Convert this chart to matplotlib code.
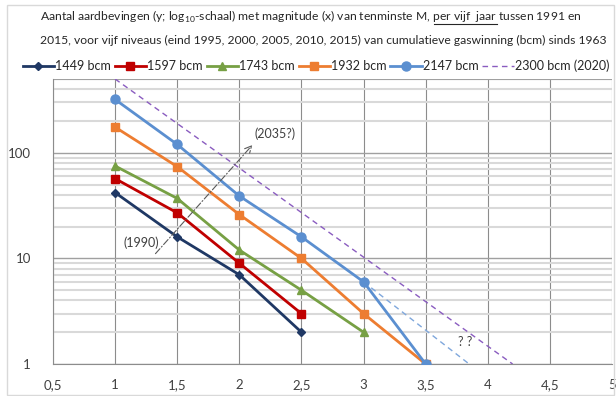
import matplotlib
matplotlib.use("Agg")
import matplotlib.pyplot as plt
import matplotlib.ticker as mticker
from matplotlib.lines import Line2D
from matplotlib.patches import Rectangle

plt.rcParams['font.family'] = ['Lato', 'DejaVu Sans']
plt.rcParams['mathtext.fontset'] = 'custom'
plt.rcParams['mathtext.rm'] = 'Lato'

# magnitude (x) and number of quakes per five years (y)
mag = [1, 1.5, 2, 2.5, 3, 3.5]
n_1449 = [42, 16, 7, 2]
n_1597 = [57, 27, 9, 3]
n_1743 = [75, 37, 12, 5, 2]
n_1932 = [175, 74, 26, 10, 3, 1]
n_2147 = [320, 120, 39, 16, 6, 1]

# projections
proj_2300_x = [1, 4.2]
proj_2300_y = [500, 1]
guess_x = [3, 3.85]
guess_y = [6, 1]
arrow_from = (1.31, 10.6)
arrow_to = (2.12, 124)

series = [
    ('1449 bcm', n_1449, '#1f3864', 'D', 4),
    ('1597 bcm', n_1597, '#c00000', 's', 5.5),
    ('1743 bcm', n_1743, '#77a044', '^', 6),
    ('1932 bcm', n_1932, '#ed7d31', 's', 5.5),
    ('2147 bcm', n_2147, '#5b8fd0', 'o', 6.5),
]

fig = plt.figure(figsize=(6.16, 3.96), dpi=100)
ax = fig.add_axes([53 / 616, 1 - 364 / 396, 559 / 616, 285 / 396])

for label, vals, col, mk, ms in series:
    ax.plot(mag[:len(vals)], vals, color=col, marker=mk, markersize=ms, lw=2,
            label=label, zorder=3)

ax.plot(guess_x, guess_y, color='#7fa7dc', lw=1, ls=(0, (4, 3)), zorder=2)
ax.plot(proj_2300_x, proj_2300_y, color='#8a5cc0', lw=1, ls=(0, (4, 3)),
        label='2300 bcm (2020)', zorder=2)

ax.annotate('', xy=arrow_to, xytext=arrow_from,
            arrowprops=dict(arrowstyle='->', color='#595959', lw=0.8,
                            ls=(0, (6, 2, 1, 2)), mutation_scale=12))
ax.text(1.07, 14, '(1990)', fontsize=9, color='#404040', va='center', ha='left')
ax.text(2.12, 150, '(2035?)', fontsize=9, color='#404040', va='center', ha='left')
ax.text(3.82, 1.6, '? ?', fontsize=9, color='#404040', va='center', ha='center')

ax.set_yscale('log')
ax.set_xlim(0.5, 5)
ax.set_ylim(1, 500)
ax.set_xticks([0.5, 1, 1.5, 2, 2.5, 3, 3.5, 4, 4.5, 5])
ax.xaxis.set_major_formatter(mticker.FuncFormatter(lambda v, p: f'{v:g}'.replace('.', ',')))
ax.yaxis.set_major_locator(mticker.FixedLocator([1, 10, 100]))
ax.yaxis.set_major_formatter(mticker.FuncFormatter(lambda v, p: f'{v:g}'))
ax.yaxis.set_minor_locator(mticker.LogLocator(base=10, subs=range(2, 10)))
ax.yaxis.set_minor_formatter(mticker.NullFormatter())
ax.tick_params(which='both', length=0, labelsize=9.5, colors='#404040')
ax.tick_params(axis='x', pad=11)
ax.tick_params(axis='y', pad=16)

ax.grid(which='minor', axis='y', color='#d9d9d9', lw=1.5, zorder=0)
ax.grid(which='major', axis='y', color='#a0a0a0', lw=1, zorder=1)
ax.grid(which='major', axis='x', color='#8c8c8c', lw=0.8, zorder=1)
ax.set_axisbelow(True)
for s in ['top', 'right']:
    ax.spines[s].set_visible(False)
for s in ['left', 'bottom']:
    ax.spines[s].set_color('#8c8c8c')
    ax.spines[s].set_linewidth(0.8)
ax.axhline(500, color='#a0a0a0', lw=0.8, zorder=1)

ax.legend(loc='center', bbox_to_anchor=(316 / 616, 1 - 66 / 396),
          bbox_transform=fig.transFigure, ncol=6, frameon=False,
          fontsize=9, handlelength=2.5, columnspacing=0.3, handletextpad=0.1,
          borderaxespad=0, borderpad=0, labelcolor='#262626')

# title with underlined part
fs = 8.7
x0 = 40 / 616
y1 = 1 - 21 / 396
y2 = 1 - 44 / 396
pre = 'Aantal aardbevingen (y; log$_{10}$-schaal) met magnitude (x) van tenminste M, '
und = 'per vijf  jaar'
line1 = pre + und + ' tussen 1991 en'
line2 = '2015, voor vijf niveaus (eind 1995, 2000, 2005, 2010, 2015) van cumulatieve gaswinning (bcm) sinds 1963'
fig.text(x0, y1, line1, fontsize=fs, color='#262626', va='baseline')
fig.text(x0, y2, line2, fontsize=fs, color='#262626', va='baseline')

r = fig.canvas.get_renderer()
def width(s):
    t = fig.text(0, 0, s, fontsize=fs)
    w = t.get_window_extent(r).width
    t.remove()
    return w
u_start = width(pre + 'p') - width('p')
u_end = width(pre + und)
fig.add_artist(Line2D([x0 + u_start / 616, x0 + u_end / 616],
                      [y1 - 3 / 396, y1 - 3 / 396], color='#262626', lw=0.8))

fig.add_artist(Rectangle((7 / 616, 1 / 396), 607 / 616, 390 / 396,
                         fill=False, edgecolor='#d9d9d9', lw=1))

fig.savefig('out.png', dpi=100)
